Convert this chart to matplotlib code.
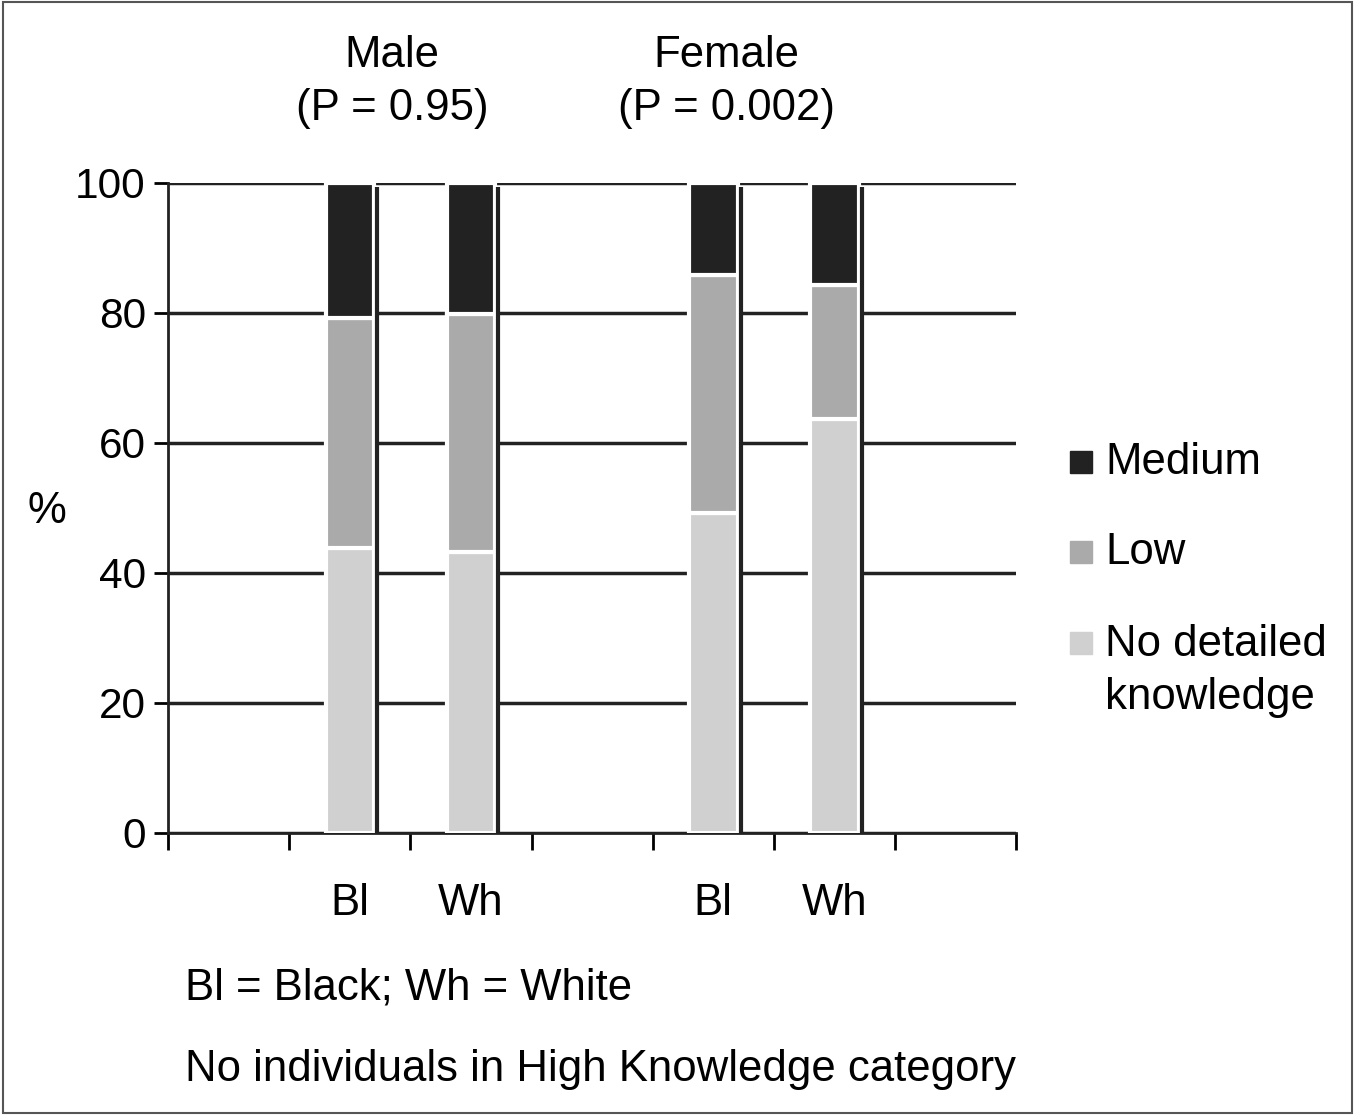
import numpy as np
import matplotlib.pyplot as plt
from matplotlib.patches import Rectangle

plt.rcParams['font.family'] = ['Liberation Sans', 'DejaVu Sans']

# data (percent)
bar_x = [1.5, 2.5, 4.5, 5.5]
bar_labels = ['Bl', 'Wh', 'Bl', 'Wh']
no_detail = [43.8, 43.2, 49.2, 63.7]
low = [35.4, 36.6, 36.6, 20.6]
medium = [20.8, 20.2, 14.2, 15.7]
groups = ['Male\n(P = 0.95)', 'Female\n(P = 0.002)']
legend_labels = ['Medium', 'Low', 'No detailed\nknowledge']
colors = ['#222222', '#aaaaaa', '#d0d0d0']

fig = plt.figure(figsize=(13.55, 11.15), dpi=100)
ax = fig.add_axes([0.124, 0.253, 0.626, 0.583])

fs = 31.5
ax.set_xlim(0, 7)
ax.set_ylim(0, 100)
ax.set_yticks(np.arange(0, 101, 20))
ax.set_xticks(np.arange(0, 8))
ax.set_xticklabels([])
ax.tick_params(axis='y', direction='out', length=10, width=2, labelsize=30.5, pad=6)
ax.tick_params(axis='x', direction='out', length=12, width=2)
for s in ['top', 'right']:
    ax.spines[s].set_visible(False)
for s in ['left', 'bottom']:
    ax.spines[s].set_linewidth(2)
    ax.spines[s].set_color('#222222')
ax.yaxis.grid(True, color='#222222', linewidth=2.5)
ax.set_axisbelow(True)

w = 0.4
x = np.array(bar_x)
nd = np.array(no_detail)
lo = np.array(low)
me = np.array(medium)
ax.bar(x, nd, width=w, color=colors[2], edgecolor='white', linewidth=3, zorder=3)
ax.bar(x, lo, width=w, bottom=nd, color=colors[1], edgecolor='white', linewidth=3, zorder=3)
ax.bar(x, me, width=w, bottom=nd + lo, color=colors[0], edgecolor='white', linewidth=3, zorder=3)
# shadow line on right of each bar
tot = nd + lo + me
ax.vlines(x + w / 2 + 0.025, 0, tot - 0.6, color='#222222', linewidth=3, zorder=4)

for xi, lab in zip(bar_x, bar_labels):
    ax.text(xi, -10.8, lab, ha='center', va='center', fontsize=fs)

ax.text(-1.0, 49.5, '%', ha='center', va='center', fontsize=fs)

fig.text(392 / 1355, 1 - 82 / 1115, groups[0], ha='center', va='center',
         fontsize=fs, linespacing=1.4)
fig.text(726 / 1355, 1 - 82 / 1115, groups[1], ha='center', va='center',
         fontsize=fs, linespacing=1.4)

# legend
leg_y = [462, 552, 643]
for yy, lab, c in zip(leg_y, legend_labels, colors):
    fig.patches.append(Rectangle((1070 / 1355, 1 - (yy + 11) / 1115), 22 / 1355, 22 / 1115,
                                 transform=fig.transFigure, color=c, figure=fig))
    if '\n' in lab:
        fig.text(1105 / 1355, 1 - (yy + 28) / 1115, lab, ha='left', va='center',
                 fontsize=fs, linespacing=1.4)
    else:
        fig.text(1105 / 1355, 1 - yy / 1115, lab, ha='left', va='center', fontsize=fs)

fig.text(185 / 1355, 1 - 988 / 1115, 'Bl = Black; Wh = White', ha='left', va='center', fontsize=fs)
fig.text(185 / 1355, 1 - 1070 / 1115, 'No individuals in High Knowledge category', ha='left',
         va='center', fontsize=fs)

fig.patches.append(Rectangle((0.002, 0.002), 0.996, 0.996, transform=fig.transFigure,
                             fill=False, edgecolor='#555555', linewidth=1.5, figure=fig))

fig.savefig('out.png', dpi=100)
